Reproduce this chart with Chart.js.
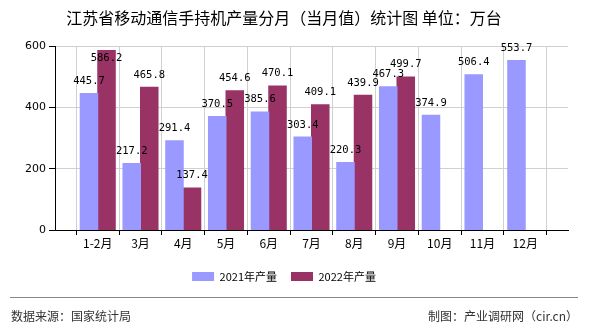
<!DOCTYPE html>
<html>
<head>
<meta charset="utf-8">
<script src="https://cdn.jsdelivr.net/npm/chart.js@4"></script>
<style>
  html, body { margin: 0; padding: 0; background: #fff; }
  #wrap { width: 590px; height: 330px; position: relative; }
</style>
</head>
<body>
<div id="wrap"><canvas id="chart"></canvas></div>
<script>
// --- data ---
const months = ['1-2月', '3月', '4月', '5月', '6月', '7月', '8月', '9月', '10月', '11月', '12月'];
const output2021 = [445.7, 217.2, 291.4, 370.5, 385.6, 303.4, 220.3, 467.3, 374.9, 506.4, 553.7];
const output2022 = [586.2, 465.8, 137.4, 454.6, 470.1, 409.1, 439.9, 499.7, null, null, null];
const yTicks = [0, 200, 400, 600];

// empty slot at both ends so the bars sit on the grid lines
const labels = [''].concat(months, ['']);
const pad = arr => [null].concat(arr, [null]);

const FONT = '"Noto Sans CJK SC", "Noto Sans", sans-serif';

// value labels above bars, pushed inside when they would leave the top
const valueLabels = {
    id: 'valueLabels',
    afterDatasetsDraw(chart) {
        const ctx = chart.ctx;
        ctx.save();
        ctx.font = '10.5px "DejaVu Sans Mono", monospace';
        ctx.fillStyle = '#000';
        ctx.textAlign = 'center';
        chart.data.datasets.forEach((ds, i) => {
            chart.getDatasetMeta(i).data.forEach((bar, j) => {
                const v = ds.data[j];
                if (v == null) return;
                let y = bar.y - 7;
                if (y - 9 < 40) {
                    ctx.textBaseline = 'top';
                    y = bar.y + 3;
                } else {
                    ctx.textBaseline = 'bottom';
                }
                ctx.fillText(v.toFixed(1), bar.x, y);
            });
        });
        ctx.restore();
    }
};

// source line at the bottom
const footer = {
    id: 'footer',
    afterDraw(chart) {
        const ctx = chart.ctx;
        ctx.save();
        ctx.strokeStyle = '#888';
        ctx.lineWidth = 1;
        ctx.beginPath();
        ctx.moveTo(10, 297.5);
        ctx.lineTo(578, 297.5);
        ctx.stroke();
        ctx.font = '12px ' + FONT;
        ctx.fillStyle = '#333';
        ctx.textBaseline = 'middle';
        ctx.textAlign = 'left';
        ctx.fillText('数据来源：国家统计局', 11, 316);
        ctx.textAlign = 'right';
        ctx.fillText('制图：产业调研网（cir.cn）', 578, 316);
        ctx.restore();
    }
};

new Chart(document.getElementById('chart'), {
    type: 'bar',
    data: {
        labels: labels,
        datasets: [
            { label: '2021年产量', data: pad(output2021), backgroundColor: '#9999FF' },
            { label: '2022年产量', data: pad(output2022), backgroundColor: '#993366' }
        ]
    },
    options: {
        responsive: true,
        maintainAspectRatio: false,
        animation: false,
        layout: { padding: { left: 0, right: 22, top: 0, bottom: 38 } },
        datasets: { bar: { categoryPercentage: 0.82, barPercentage: 1, inflateAmount: 0.5 } },
        plugins: {
            title: {
                display: true,
                text: '江苏省移动通信手持机产量分月（当月值）统计图 单位：万台',
                color: '#000',
                font: { family: FONT, size: 16, weight: 'normal' },
                padding: { top: 8, bottom: 19 }
            },
            legend: {
                position: 'bottom',
                labels: {
                    boxWidth: 22,
                    boxHeight: 9,
                    padding: 14,
                    color: '#000',
                    font: { family: FONT, size: 11 }
                }
            },
            tooltip: { enabled: false }
        },
        scales: {
            x: {
                offset: false,
                grid: { color: '#d0d0d0', tickColor: '#000', tickLength: 5 },
                border: { color: '#000', width: 1 },
                ticks: {
                    color: '#000',
                    font: { family: FONT, size: 12 },
                    maxRotation: 0,
                    autoSkip: false,
                    padding: 1
                },
                afterFit(scale) { scale.height = 27; }
            },
            y: {
                min: 0,
                max: 600,
                afterBuildTicks(scale) { scale.ticks = yTicks.map(v => ({ value: v })); },
                grid: { color: '#d0d0d0', tickColor: '#000', tickLength: 6 },
                border: { color: '#000', width: 1 },
                ticks: {
                    color: '#000',
                    font: { family: '"DejaVu Sans", sans-serif', size: 11 },
                    padding: 3
                },
                afterFit(scale) { scale.width = 55; }
            }
        }
    },
    plugins: [valueLabels, footer]
});
</script>
</body>
</html>
